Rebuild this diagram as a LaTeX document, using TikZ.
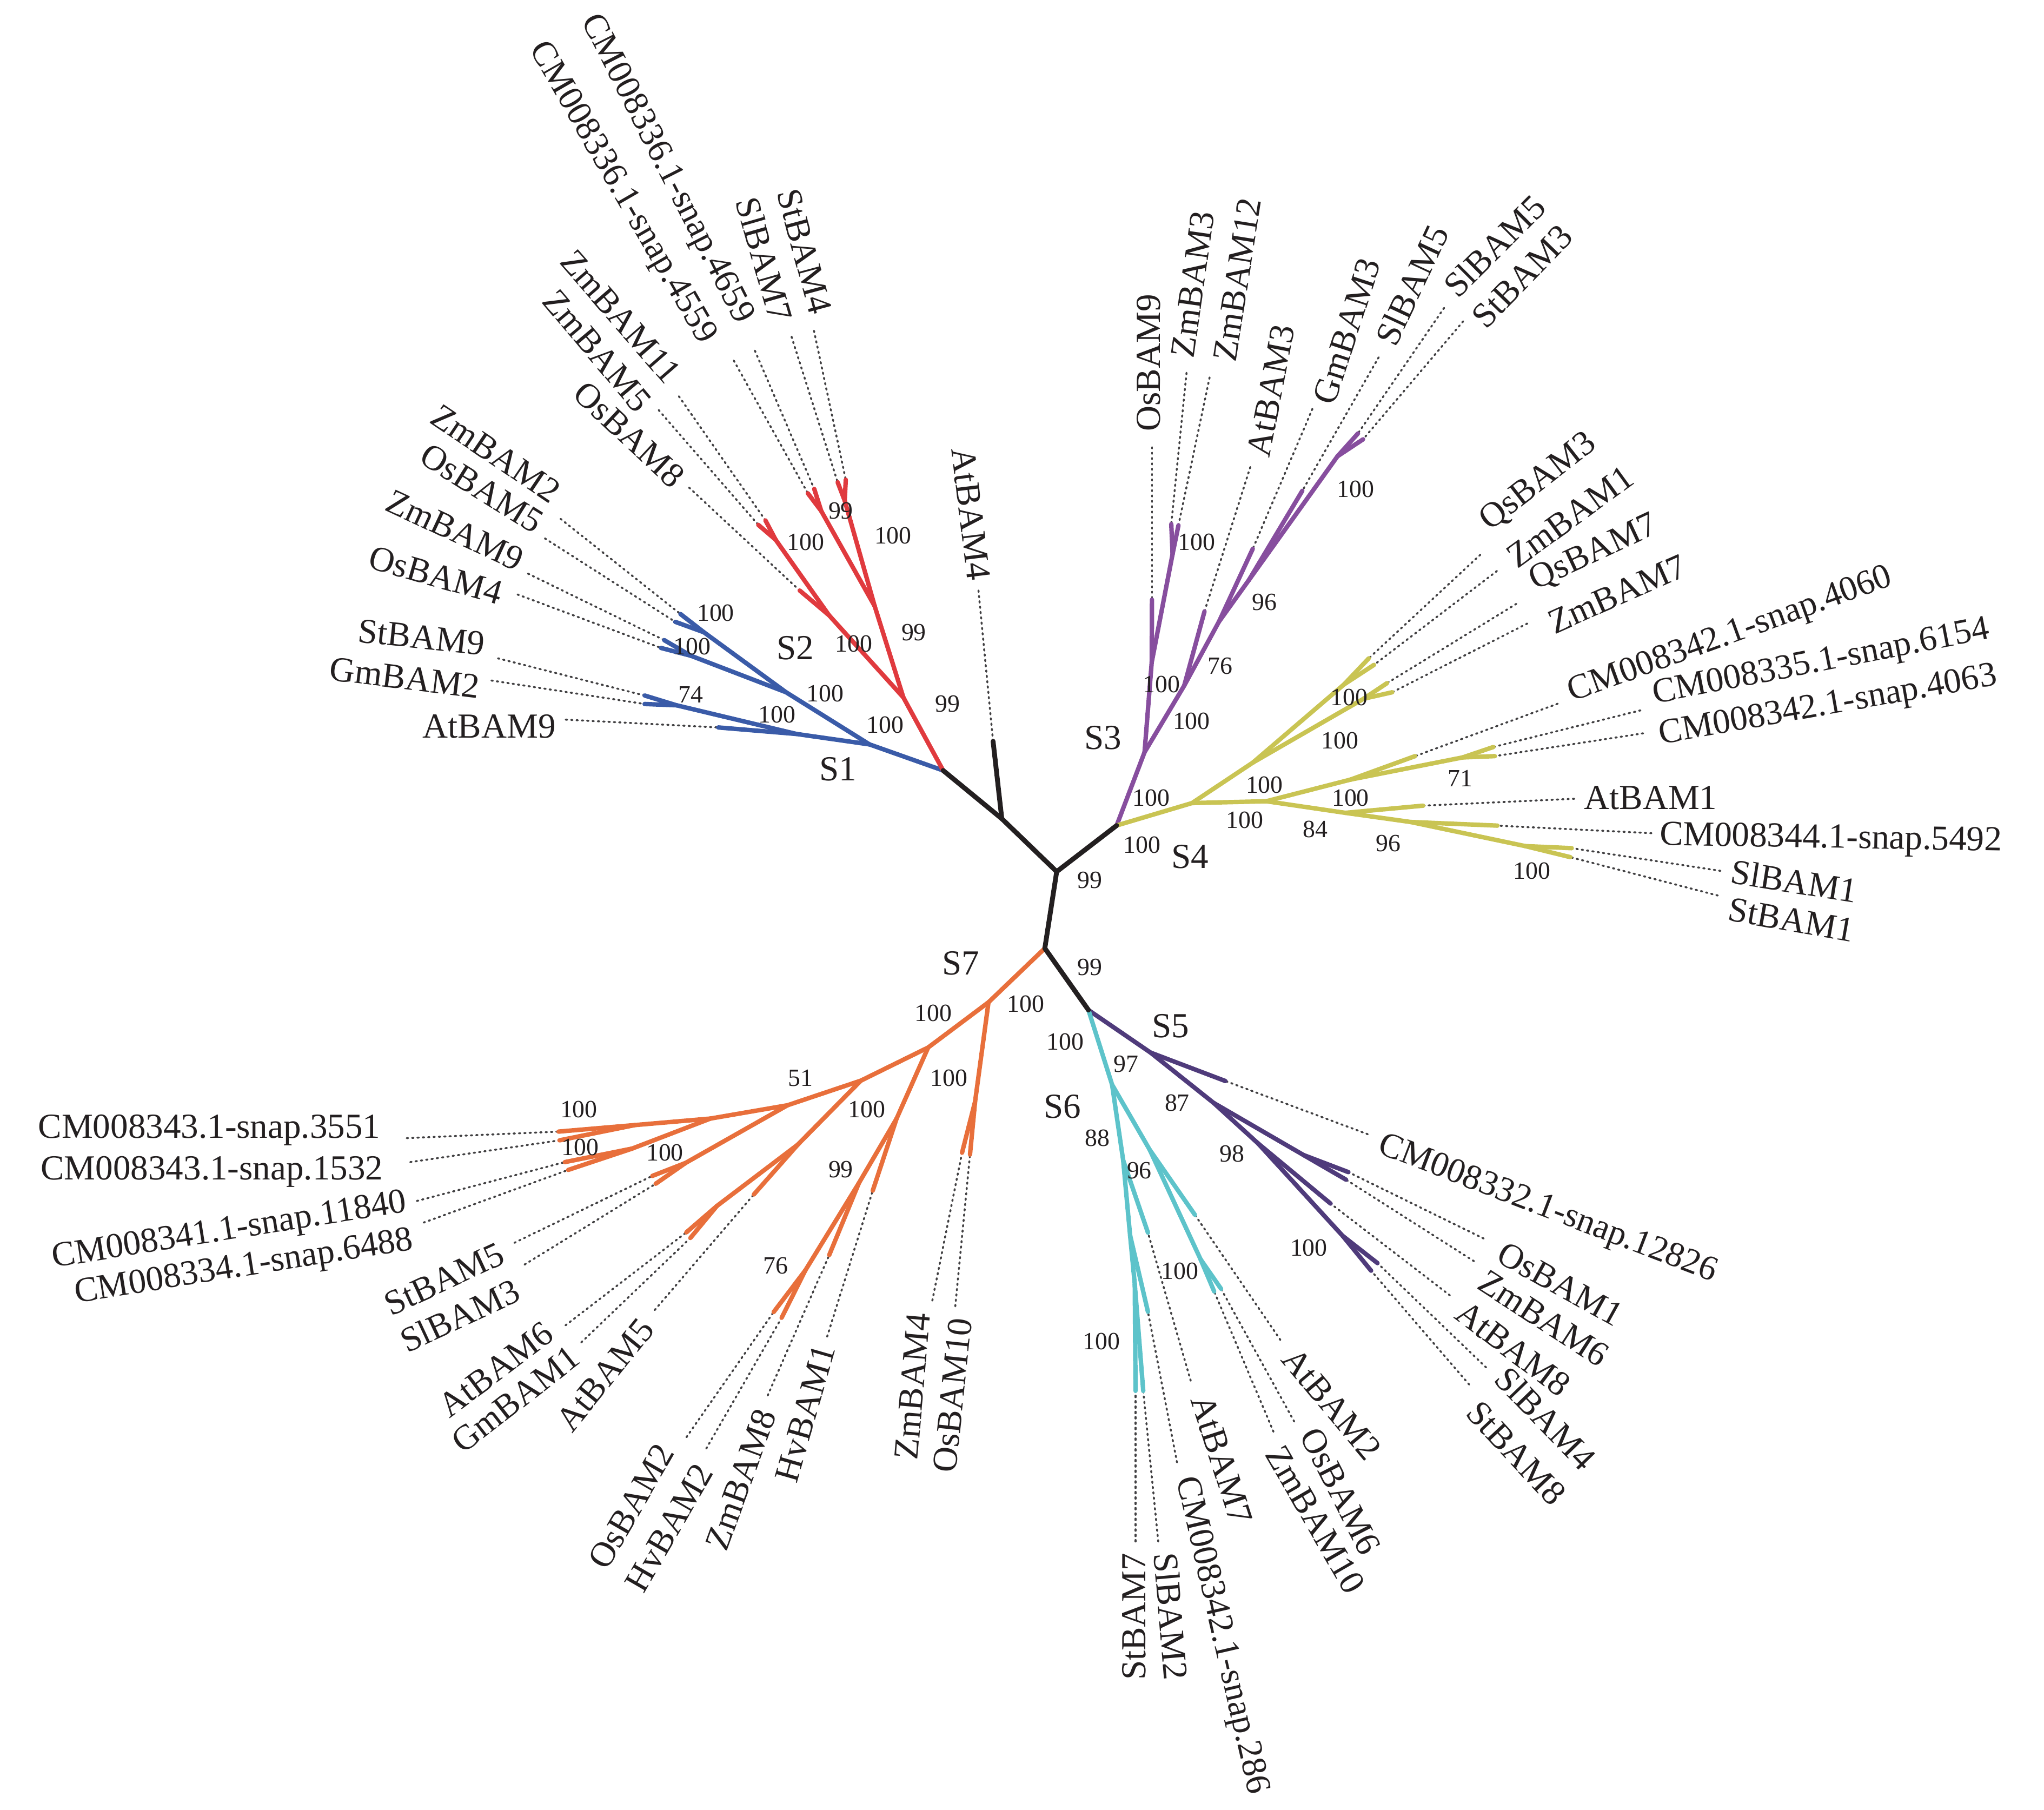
\documentclass[tikz,border=0pt]{standalone}
\usepackage{fontspec}
\setmainfont{Liberation Serif}
\usetikzlibrary{calc}
\definecolor{cSa}{HTML}{3A5BA8}
\definecolor{cSb}{HTML}{E03A3E}
\definecolor{cSc}{HTML}{874E9E}
\definecolor{cSd}{HTML}{C9C453}
\definecolor{cSe}{HTML}{4F3B7B}
\definecolor{cSf}{HTML}{5DC3CA}
\definecolor{cSg}{HTML}{E86F3B}
\definecolor{blk}{HTML}{231F20}
\definecolor{dotc}{HTML}{414042}
\tikzset{
 br/.style={line width=3.4pt, line cap=round, line join=round},
 bA/.style={br, draw=cSa}, bB/.style={br, draw=cSb}, bC/.style={br, draw=cSc},
 bD/.style={br, draw=cSd}, bE/.style={br, draw=cSe}, bF/.style={br, draw=cSf},
 bG/.style={br, draw=cSg},
 bK/.style={line width=3.7pt, line cap=round, line join=round, draw=blk},
 dotline/.style={draw=dotc, line width=1.5pt, line cap=round, dash pattern=on 1.1pt off 3pt},
 leaf/.style={font=\fontsize{27}{30}\selectfont, text=blk, inner sep=1pt},
 bs/.style={font=\fontsize{19}{21}\selectfont, text=blk, inner sep=0pt},
 clade/.style={font=\fontsize{27}{30}\selectfont, text=blk, inner sep=0pt},
}
% #1 name, #2 tip, #3 end of dotted line, #4 text anchor point, #5 anchor, #6 rotation, #7 text
\newcommand{\lf}[7]{%
 \coordinate (#1T) at (#2);
 \coordinate (#1L) at (#3);
 \node[leaf, anchor=#5, rotate=#6] (#1) at (#4) {#7};
 \draw[dotline] (#1L) -- (#1T);
}
\begin{document}
\begin{tikzpicture}[x=1pt,y=-1pt]
\useasboundingbox (0,0) rectangle (1568,1388);
% ---------- internal nodes ----------
\coordinate (J12) at (723.5,591);
\coordinate (Ac) at (768.5,628);
\coordinate (Bc) at (810.6,668.6);
\coordinate (Dc) at (856.6,633.2);
\coordinate (Cc) at (801.5,727.4);
\coordinate (Ec) at (835,774.8);
% S1
\coordinate (n1) at (667,571);
\coordinate (nA) at (611,563);
\coordinate (n74) at (519,541);
\coordinate (nB) at (603,531);
\coordinate (u1) at (540,485);
\coordinate (u2) at (530,503);
% S2
\coordinate (r1) at (693,535);
\coordinate (r2) at (671,465);
\coordinate (P1n) at (648,384);
\coordinate (P2n) at (630,392);
\coordinate (r3) at (636,472);
\coordinate (Zmn) at (595,414);
% S3
\coordinate (p1) at (878,577);
\coordinate (p2) at (883.5,508);
\coordinate (pZ) at (899.5,425);
\coordinate (p3) at (908.4,526);
\coordinate (p4) at (935,477);
\coordinate (p5) at (958,445);
\coordinate (p6) at (1026,350);
% S4
\coordinate (y1) at (914.4,616);
\coordinate (y3) at (961,585);
\coordinate (yU) at (1031,525);
\coordinate (yL) at (1046,536);
\coordinate (y2) at (971.4,614.6);
\coordinate (y4) at (1036,598);
\coordinate (y71) at (1122,581);
\coordinate (y5) at (1032,623.5);
\coordinate (y6) at (1082,630.5);
\coordinate (y7) at (1170,649);
% S5
\coordinate (q1) at (882.6,807.4);
\coordinate (q2) at (931,846);
\coordinate (pOZ) at (1000,886);
\coordinate (q3) at (965,877);
\coordinate (pSS) at (1030,948);
% S6
\coordinate (c1) at (853.1,832);
\coordinate (c2) at (861.6,890);
\coordinate (c3) at (866.9,947.5);
\coordinate (c4) at (870.5,985);
\coordinate (c5) at (882,882);
\coordinate (c6) at (921,966);
% S7
\coordinate (o1) at (758.3,768.8);
\coordinate (oZO) at (748,845);
\coordinate (o2) at (712,803.5);
\coordinate (o3) at (660.4,828.9);
\coordinate (o6) at (604.1,847.8);
\coordinate (o7) at (545,858);
\coordinate (pA) at (487,863);
\coordinate (pB) at (485,881);
\coordinate (o8) at (526,892);
\coordinate (o9) at (612,878);
\coordinate (pAG) at (550,925);
\coordinate (o4) at (687.8,858);
\coordinate (o5) at (658.9,907.4);
\coordinate (p76) at (617.8,974.4);
% ---------- leaves ----------
% S1
\lf{ZmBAMii}{522,471}{430,398}{428,380}{east}{-34}{ZmBAM2}
\lf{OsBAMv}{518,477}{418,413}{415,403}{east}{-32}{OsBAM5}
\lf{ZmBAMix}{509.5,491}{405,440}{401,431}{east}{-25}{ZmBAM9}
\lf{OsBAMiv}{507,497}{397,456}{386,456}{east}{-16}{OsBAM4}
\lf{StBAMix}{494.5,533.5}{382,505}{373,494}{east}{-6}{StBAM9}
\lf{GmBAMii}{494.5,540}{377,522}{369,527}{east}{-7}{GmBAM2}
\lf{AtBAMix}{551,558}{434,552}{427.5,557}{east}{0}{AtBAM9}
% S2
\lf{OsBAMviii}{613.5,453}{528.6,374}{522,370}{east}{-43}{OsBAM8}
\lf{ZmBAMv}{581.7,402.6}{505.3,314.6}{495,313}{east}{-50}{ZmBAM5}
\lf{ZmBAMxi}{587.2,399.2}{520.8,304}{518,291}{east}{-49}{ZmBAM11}
\lf{CMdA}{619.7,378.4}{562.9,276.6}{543,263}{east}{-60}{CM008336.1-snap.4559}
\lf{CMdB}{624.6,375}{579.1,269}{571,248}{east}{-63}{CM008336.1-snap.4659}
\lf{SlBAMvii}{642.6,370}{607.2,258.3}{600,247}{east}{-74}{SlBAM7}
\lf{StBAMiv}{648.8,368}{624.4,253.7}{630,241}{east}{-75}{StBAM4}
\lf{AtBAMiv}{761.8,568.6}{750.6,453}{751,446}{east}{-83}{AtBAM4}
% S3
\lf{OsBAMix}{883.7,460}{883.7,343}{881,332}{west}{90}{OsBAM9}
\lf{ZmBAMiii}{898.5,402}{910.2,286}{907,275}{west}{82}{ZmBAM3}
\lf{ZmBAMxii}{904,403}{927.9,289.5}{939,278}{west}{81}{ZmBAM12}
\lf{AtBAMiii}{924,469}{959.1,358.3}{965,351}{west}{79}{AtBAM3}
\lf{GmBAMiii}{961,421}{1006.8,313.6}{1015,310}{west}{72}{GmBAM3}
\lf{SlBAMva}{999,376.5}{1057.6,274.1}{1062,264}{west}{65}{SlBAM5}
\lf{SlBAMvb}{1041.7,332.5}{1107.8,236.2}{1111,224}{west}{45}{SlBAM5}
\lf{StBAMiii}{1045.6,337}{1122.4,246.5}{1133,248}{west}{46}{StBAM3}
% S4
\lf{QsBAMiii}{1050,505}{1135.6,425.5}{1138,403}{west}{38}{QsBAM3}
\lf{ZmBAMi}{1054,510}{1148.3,438}{1158,430}{west}{36}{ZmBAM1}
\lf{QsBAMvii}{1064,524}{1163.2,463.2}{1174,447}{west}{25}{QsBAM7}
\lf{ZmBAMvii}{1068,531}{1171.6,478.3}{1188,479}{west}{24}{ZmBAM7}
\lf{CMdC}{1085.5,580}{1194.9,539.8}{1203,533}{west}{20}{CM008342.1-snap.4060}
\lf{CMdD}{1145.6,573}{1258.4,544.9}{1267,534}{west}{11}{CM008335.1-snap.6154}
\lf{CMdE}{1146.7,580}{1260.5,562.5}{1272,565}{west}{10}{CM008342.1-snap.4063}
\lf{AtBAMi}{1091.7,618}{1207.6,612.7}{1214,612}{west}{0}{AtBAM1}
\lf{CMdF}{1148.7,633.3}{1266.9,639.1}{1272,642}{west}{-1}{CM008344.1-snap.5492}
\lf{SlBAMi}{1205.7,650.6}{1319.8,668}{1327,668}{west}{-9}{SlBAM1}
\lf{StBAMi}{1204.7,657.5}{1317.7,686.9}{1325,697}{west}{-10}{StBAM1}
% S5
\lf{CMdG}{940,829.2}{1049.2,870}{1057,878}{west}{-21}{CM008332.1-snap.12826}
\lf{OsBAMi}{1034.4,899.1}{1138.1,950}{1150,959}{west}{-29}{OsBAM1}
\lf{ZmBAMvi}{1032.6,904.9}{1130.7,967.4}{1136,980}{west}{-33}{ZmBAM6}
\lf{AtBAMviii}{1020.7,923.2}{1112.2,993.6}{1119,1003}{west}{-37}{AtBAM8}
\lf{SlBAMiv}{1056.7,968.9}{1140,1048.9}{1151,1052}{west}{-46}{SlBAM4}
\lf{StBAMviii}{1051.8,974.7}{1127,1062}{1129,1078}{west}{-47}{StBAM8}
% S6
\lf{AtBAMii}{916.6,931.8}{982.2,1027.8}{988,1037}{west}{-50}{AtBAM2}
\lf{OsBAMvi}{936.7,988.6}{992.8,1090.4}{1004,1096}{west}{-63}{OsBAM6}
\lf{ZmBAMx}{931.4,990.6}{976.9,1098.2}{977,1110}{west}{-60}{ZmBAM10}
\lf{AtBAMvii}{880.6,945.5}{913.4,1059.1}{921,1070}{west}{-72}{AtBAM7}
\lf{CMdH}{880.6,1006.2}{902.9,1121.7}{908,1132}{west}{-77}{CM008342.1-snap.286}
\lf{SlBAMii}{877,1066.9}{888.5,1182.4}{894,1190}{west}{-85}{SlBAM2}
\lf{StBAMvii}{871.1,1066.9}{871.1,1182.4}{870,1190}{east}{90}{StBAM7}
% S7
\lf{CMdI}{428.5,868}{312,873}{293,867}{east}{0}{CM008343.1-snap.3551}
\lf{CMdJ}{429.2,874.7}{314.7,891.4}{295,899}{east}{0}{CM008343.1-snap.1532}
\lf{CMdK}{433.3,891.4}{319.8,921.2}{313,923}{east}{9}{CM008341.1-snap.11840}
\lf{CMdL}{435.9,897.4}{325,937.8}{318,952}{east}{9}{CM008334.1-snap.6488}
\lf{StBAMv}{500.4,902}{394.6,953.3}{386,960}{east}{25}{StBAM5}
\lf{SlBAMiii}{503,908}{402.4,970}{398,988}{east}{25}{SlBAM3}
\lf{AtBAMvi}{526.5,945.3}{433.8,1016.6}{422,1019}{east}{37}{AtBAM6}
\lf{GmBAMi}{529.6,949.6}{445.9,1029.7}{442,1037}{east}{38}{GmBAM1}
\lf{AtBAMv}{578.3,916.2}{502.2,1004.9}{497,1014}{east}{51}{AtBAM5}
\lf{OsBAMii}{593.5,1006.4}{526.6,1102.4}{511,1109}{east}{60}{OsBAM2}
\lf{HvBAMii}{599.6,1010.8}{541.8,1111.1}{541,1124}{east}{60}{HvBAM2}
\lf{ZmBAMviii}{636.1,962.7}{588.9,1070.4}{588,1081}{east}{70}{ZmBAM8}
\lf{HvBAMi}{669.5,913.3}{634.5,1025.3}{633,1031}{east}{74}{HvBAM1}
\lf{ZmBAMiv}{738,884.2}{715.2,997.6}{705,1006}{east}{85}{ZmBAM4}
\lf{OsBAMx}{744.1,885.6}{732.8,1002}{737,1010}{east}{84}{OsBAM10}
% ---------- branches ----------
\foreach \a/\b in {J12/n1, n1/nA, nA/AtBAMixT, nA/n74, n74/StBAMixT, n74/GmBAMiiT,
  n1/nB, nB/u1, u1/ZmBAMiiT, u1/OsBAMvT, nB/u2, u2/ZmBAMixT, u2/OsBAMivT}
  \draw[bA] (\a) -- (\b);
\foreach \a/\b in {J12/r1, r1/r2, r2/P1n, P1n/StBAMivT, P1n/SlBAMviiT, r2/P2n, P2n/CMdBT,
  P2n/CMdAT, r1/r3, r3/OsBAMviiiT, r3/Zmn, Zmn/ZmBAMxiT, Zmn/ZmBAMvT}
  \draw[bB] (\a) -- (\b);
\foreach \a/\b in {Dc/p1, p1/p2, p2/OsBAMixT, p2/pZ, pZ/ZmBAMiiiT, pZ/ZmBAMxiiT, p1/p3,
  p3/AtBAMiiiT, p3/p4, p4/GmBAMiiiT, p4/p5, p5/SlBAMvaT, p5/p6, p6/SlBAMvbT, p6/StBAMiiiT}
  \draw[bC] (\a) -- (\b);
\foreach \a/\b in {Dc/y1, y1/y3, y3/yU, yU/QsBAMiiiT, yU/ZmBAMiT, y3/yL, yL/QsBAMviiT,
  yL/ZmBAMviiT, y1/y2, y2/y4, y4/CMdCT, y4/y71, y71/CMdDT, y71/CMdET, y2/y5, y5/AtBAMiT,
  y5/y6, y6/CMdFT, y6/y7, y7/SlBAMiT, y7/StBAMiT}
  \draw[bD] (\a) -- (\b);
\foreach \a/\b in {Ec/q1, q1/CMdGT, q1/q2, q2/pOZ, pOZ/OsBAMiT, pOZ/ZmBAMviT, q2/q3,
  q3/AtBAMviiiT, q3/pSS, pSS/SlBAMivT, pSS/StBAMviiiT}
  \draw[bE] (\a) -- (\b);
\foreach \a/\b in {Ec/c1, c1/c2, c2/AtBAMviiT, c2/c3, c3/CMdHT, c3/c4, c4/StBAMviiT,
  c4/SlBAMiiT, c1/c5, c5/AtBAMiiT, c5/c6, c6/OsBAMviT, c6/ZmBAMxT}
  \draw[bF] (\a) -- (\b);
\foreach \a/\b in {Cc/o1, o1/oZO, oZO/ZmBAMivT, oZO/OsBAMxT, o1/o2, o2/o3, o3/o6, o6/o7,
  o7/pA, pA/CMdIT, pA/CMdJT, o7/pB, pB/CMdKT, pB/CMdLT, o6/o8, o8/StBAMvT, o8/SlBAMiiiT,
  o3/o9, o9/AtBAMvT, o9/pAG, pAG/AtBAMviT, pAG/GmBAMiT, o2/o4, o4/HvBAMiT, o4/o5,
  o5/ZmBAMviiiT, o5/p76, p76/OsBAMiiT, p76/HvBAMiiT}
  \draw[bG] (\a) -- (\b);
\foreach \a/\b in {J12/Ac, Ac/AtBAMivT, Ac/Bc, Bc/Dc, Bc/Cc, Cc/Ec}
  \draw[bK] (\a) -- (\b);
% ---------- bootstrap values ----------
\node[bs] (bs1) at (727,540) {99};
\node[bs] (bs2) at (701,485) {99};
\node[bs] (bs3) at (685,411) {100};
\node[bs] (bs4) at (645,392) {99};
\node[bs] (bs5) at (618,416) {100};
\node[bs] (bs6) at (655,494) {100};
\node[bs] (bs7) at (679,556) {100};
\node[bs] (bs8) at (596,548) {100};
\node[bs] (bs9) at (633,532) {100};
\node[bs] (bs10) at (530,533) {74};
\node[bs] (bs11) at (549,470) {100};
\node[bs] (bs12) at (531,496) {100};
\node[bs] (bs13) at (918,416) {100};
\node[bs] (bs14) at (1040,375) {100};
\node[bs] (bs15) at (970,462) {96};
\node[bs] (bs16) at (936,511) {76};
\node[bs] (bs17) at (891,525) {100};
\node[bs] (bs18) at (914,553) {100};
\node[bs] (bs19) at (883,612) {100};
\node[bs] (bs20) at (876,648) {100};
\node[bs] (bs21) at (955,629) {100};
\node[bs] (bs22) at (970,602) {100};
\node[bs] (bs23) at (1028,568) {100};
\node[bs] (bs24) at (1035,535) {100};
\node[bs] (bs25) at (1120,597) {71};
\node[bs] (bs26) at (1036,612) {100};
\node[bs] (bs27) at (1009,636) {84};
\node[bs] (bs28) at (1065,647) {96};
\node[bs] (bs29) at (1175,668) {100};
\node[bs] (bs30) at (836,675) {99};
\node[bs] (bs31) at (836,742) {99};
\node[bs] (bs32) at (864,816) {97};
\node[bs] (bs33) at (903,846) {87};
\node[bs] (bs34) at (945,885) {98};
\node[bs] (bs35) at (1004,957) {100};
\node[bs] (bs36) at (817,799) {100};
\node[bs] (bs37) at (842,873) {88};
\node[bs] (bs38) at (874,898) {96};
\node[bs] (bs39) at (905,975) {100};
\node[bs] (bs40) at (845,1029) {100};
\node[bs] (bs41) at (787,770) {100};
\node[bs] (bs42) at (716,777) {100};
\node[bs] (bs43) at (728,827) {100};
\node[bs] (bs44) at (614,827) {51};
\node[bs] (bs45) at (665,851) {100};
\node[bs] (bs46) at (645,897) {99};
\node[bs] (bs47) at (595,971) {76};
\node[bs] (bs48) at (444,851) {100};
\node[bs] (bs49) at (445,880) {100};
\node[bs] (bs50) at (510,884) {100};
% ---------- clade labels ----------
\node[clade] (S1) at (643,590) {S1};
\node[clade] (S2) at (610,497) {S2};
\node[clade] (S3) at (846,566) {S3};
\node[clade] (S4) at (913,657) {S4};
\node[clade] (S5) at (898,787) {S5};
\node[clade] (S6) at (815,849) {S6};
\node[clade] (S7) at (737,739) {S7};
\end{tikzpicture}
\end{document}
